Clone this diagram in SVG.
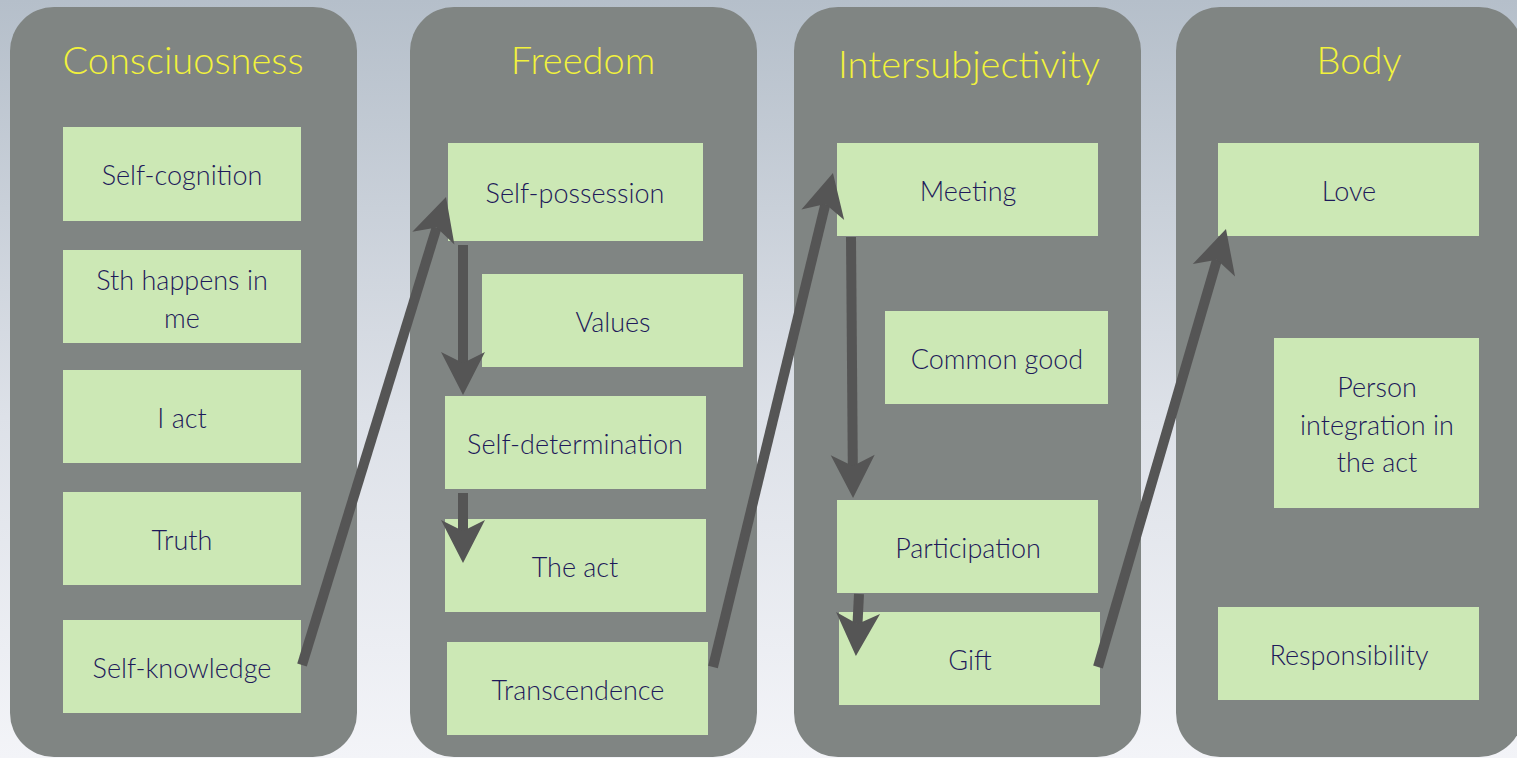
<svg xmlns="http://www.w3.org/2000/svg" width="1517" height="758" viewBox="0 0 1517 758">
<defs>
<linearGradient id="bg" x1="0" y1="0" x2="0" y2="1">
<stop offset="0" stop-color="#b5bfca"/>
<stop offset="0.55" stop-color="#dde1e8"/>
<stop offset="1" stop-color="#f3f4f8"/>
</linearGradient>
<marker id="ah" markerUnits="userSpaceOnUse" viewBox="-12 -23 45 46" refX="0" refY="0" markerWidth="45" markerHeight="46" orient="auto">
<path d="M32,0 L-11,-22 L0,0 L-11,22 Z" fill="#555555"/>
</marker>
<style>
.col{fill:#808583}
.box{fill:#cce8b5}
.title{font-family:"Gill Sans","Lato","Liberation Sans",sans-serif;font-weight:300;font-size:38px;fill:#f2f23c;text-anchor:middle}
.lbl{font-family:"Gill Sans","Lato","Liberation Sans",sans-serif;font-weight:300;font-size:27px;fill:#1e1a5a;text-anchor:middle}
.arr{stroke:#555555;stroke-width:10;fill:none;marker-end:url(#ah)}
</style>
</defs>
<rect x="0" y="0" width="1517" height="758" fill="url(#bg)"/>

<g id="col-consciousness">
<rect class="col" x="10" y="7" width="347" height="750" rx="44"/>
<text class="title" x="183" y="74">Consciuosness</text>
</g>
<g id="col-freedom">
<rect class="col" x="410" y="7" width="347" height="750" rx="44"/>
<text class="title" x="583" y="74">Freedom</text>
</g>
<g id="col-intersubjectivity">
<rect class="col" x="794" y="7" width="347" height="750" rx="44"/>
<text class="title" x="969" y="78">Intersubjectivity</text>
</g>
<g id="col-body">
<rect class="col" x="1176" y="7" width="347" height="750" rx="44"/>
<text class="title" x="1359" y="74">Body</text>
</g>

<g id="n-self-cognition"><rect class="box" x="63" y="127" width="238" height="94"/><text class="lbl" x="182" y="185">Self-cognition</text></g>
<g id="n-sth-happens"><rect class="box" x="63" y="250" width="238" height="93"/><text class="lbl" x="182" y="290">Sth happens in</text><text class="lbl" x="182" y="328">me</text></g>
<g id="n-i-act"><rect class="box" x="63" y="370" width="238" height="93"/><text class="lbl" x="182" y="428">I act</text></g>
<g id="n-truth"><rect class="box" x="63" y="492" width="238" height="93"/><text class="lbl" x="182" y="550">Truth</text></g>
<g id="n-self-knowledge"><rect class="box" x="63" y="620" width="238" height="93"/><text class="lbl" x="182" y="678">Self-knowledge</text></g>

<g id="n-self-possession"><rect class="box" x="448" y="143" width="255" height="98"/><text class="lbl" x="575" y="203">Self-possession</text></g>
<g id="n-values"><rect class="box" x="482" y="274" width="261" height="93"/><text class="lbl" x="613" y="332">Values</text></g>
<g id="n-self-determination"><rect class="box" x="445" y="396" width="261" height="93"/><text class="lbl" x="575" y="454">Self-determination</text></g>
<g id="n-the-act"><rect class="box" x="445" y="519" width="261" height="93"/><text class="lbl" x="575" y="577">The act</text></g>
<g id="n-transcendence"><rect class="box" x="447" y="642" width="261" height="93"/><text class="lbl" x="578" y="700">Transcendence</text></g>

<g id="n-meeting"><rect class="box" x="837" y="143" width="261" height="93"/><text class="lbl" x="968" y="201">Meeting</text></g>
<g id="n-common-good"><rect class="box" x="885" y="311" width="223" height="93"/><text class="lbl" x="997" y="369">Common good</text></g>
<g id="n-participation"><rect class="box" x="837" y="500" width="261" height="93"/><text class="lbl" x="968" y="558">Participation</text></g>
<g id="n-gift"><rect class="box" x="839" y="612" width="261" height="93"/><text class="lbl" x="970" y="670">Gift</text></g>

<g id="n-love"><rect class="box" x="1218" y="143" width="261" height="93"/><text class="lbl" x="1349" y="201">Love</text></g>
<g id="n-person-integration"><rect class="box" x="1274" y="338" width="205" height="170"/><text class="lbl" x="1377" y="397">Person</text><text class="lbl" x="1377" y="435">integration in</text><text class="lbl" x="1377" y="472">the act</text></g>
<g id="n-responsibility"><rect class="box" x="1218" y="607" width="261" height="93"/><text class="lbl" x="1349" y="665">Responsibility</text></g>

<g id="connectors">
<line class="arr" x1="302" y1="665" x2="436.6" y2="227.6"/>
<line class="arr" x1="463" y1="245" x2="463" y2="363"/>
<line class="arr" x1="463" y1="493" x2="463" y2="531"/>
<line class="arr" x1="713" y1="667" x2="825.4" y2="204.1"/>
<line class="arr" x1="851" y1="237" x2="852.8" y2="466"/>
<line class="arr" x1="859" y1="594" x2="857.5" y2="624"/>
<line class="arr" x1="1098" y1="667" x2="1217" y2="259.7"/>
</g>
</svg>
